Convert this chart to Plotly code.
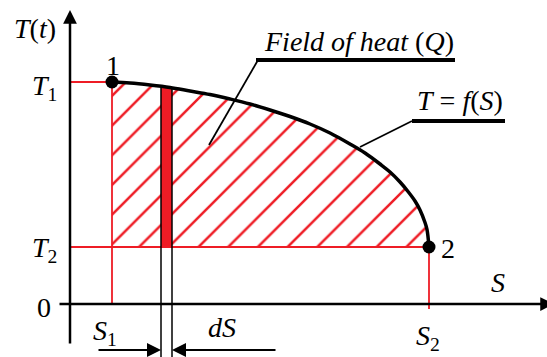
import plotly.graph_objects as go

# T-S diagram, units chosen so 1 unit ~ 1 px, origin at the axes crossing
S_curve = [42, 60, 80, 100, 120, 140, 160, 180, 200, 220, 240, 260, 280, 295,
           310, 320, 330, 338, 345, 350, 355, 357, 359]
T_curve = [222, 221, 219, 216.5, 213, 209.5, 205, 200, 194, 187.5, 180, 171, 160, 151,
           140, 132, 122, 112.5, 103, 94, 81.5, 74.5, 57]

state_S = [42, 359]      # S1, S2
state_T = [222, 57]      # T1, T2
state_names = ['1', '2']

strip_S = [91, 102]      # dS strip
strip_T = [217.5, 216]

RED = '#EE1C25'
FONT = 'Liberation Serif, Times New Roman, serif'

S1, S2 = state_S
T1, T2 = state_T

fig = go.Figure()

# hatched field of heat
fig.add_trace(go.Scatter(
    x=S_curve + [S2, S1], y=T_curve + [T2, T2],
    mode='lines', line=dict(width=0), fill='toself',
    fillcolor='rgba(0,0,0,0)',
    fillpattern=dict(shape='/', fgcolor=RED, fgopacity=1, bgcolor='rgba(0,0,0,0)',
                     size=21, solidity=0.12),
    hoverinfo='skip'))

# red guide lines
guide = dict(mode='lines', line=dict(color=RED, width=1.8), hoverinfo='skip')
fig.add_trace(go.Scatter(x=[0, S1], y=[T1, T1], **guide))
fig.add_trace(go.Scatter(x=[0, S2], y=[T2, T2], **guide))
fig.add_trace(go.Scatter(x=[S1, S1], y=[T1, 0], **guide))
fig.add_trace(go.Scatter(x=[S2, S2], y=[T2, -5], **guide))

# dS strip
fig.add_trace(go.Scatter(
    x=[strip_S[0], strip_S[1], strip_S[1], strip_S[0]],
    y=[strip_T[0], strip_T[1], T2, T2],
    mode='lines', line=dict(width=0), fill='toself', fillcolor=RED, hoverinfo='skip'))
for s, t in zip(strip_S, strip_T):
    fig.add_trace(go.Scatter(x=[s, s], y=[t, -53], mode='lines',
                             line=dict(color='black', width=1.5), hoverinfo='skip'))

# T = f(S)
fig.add_trace(go.Scatter(x=S_curve, y=T_curve, mode='lines',
                         line=dict(color='black', width=3.5, shape='spline'), hoverinfo='skip'))
fig.add_trace(go.Scatter(x=state_S, y=state_T, mode='markers',
                         marker=dict(color='black', size=13), hoverinfo='skip'))

# leader lines and underlines
lead = dict(mode='lines', line=dict(color='black', width=1.8), hoverinfo='skip')
under = dict(mode='lines', line=dict(color='black', width=4), hoverinfo='skip')
fig.add_trace(go.Scatter(x=[188, 139], y=[244, 159], **lead))
fig.add_trace(go.Scatter(x=[186, 385], y=[244, 244], **under))
fig.add_trace(go.Scatter(x=[342, 290], y=[183, 157], **lead))
fig.add_trace(go.Scatter(x=[342, 435], y=[183, 183], **under))


def arrow(x, y, ax, ay, w, sz):
    return dict(x=x, y=y, ax=ax, ay=ay, xref='x', yref='y', axref='x', ayref='y',
                text='', showarrow=True, arrowhead=2, arrowsize=sz, arrowwidth=w,
                arrowcolor='black', standoff=0)


annotations = [
    arrow(0, 294, 0, -41, 2.5, 1.1),
    arrow(484, 0, -12, 0, 2.5, 1.1),
    arrow(strip_S[0], -46, 27, -46, 2, 1.4),
    arrow(strip_S[1], -46, 207, -46, 2, 1.4),
]

labels = [
    ('<i>T</i>(<i>t</i>)', -35, 276),
    ('<i>T</i><sub>1</sub>', -26, 217),
    ('<i>T</i><sub>2</sub>', -26, 55),
    ('0', -26, -3),
    ('<i>S</i><sub>1</sub>', 35, -28),
    ('<i>dS</i>', 152, -23),
    ('<i>S</i><sub>2</sub>', 358, -33),
    ('<i>S</i>', 428, 22),
    ('<i>Field of heat</i> (<i>Q</i>)', 289, 263),
    ('<i>T</i> = <i>f</i>(<i>S</i>)', 390, 204),
    (state_names[0], S1 + 1, 239),
    (state_names[1], S2 + 19, 56),
]
for txt, x, y in labels:
    annotations.append(dict(x=x, y=y, xref='x', yref='y', text=txt, showarrow=False,
                            xanchor='center', yanchor='middle',
                            font=dict(family=FONT, size=28, color='black')))

fig.update_layout(
    width=547, height=357,
    margin=dict(l=0, r=0, t=0, b=0),
    plot_bgcolor='white', paper_bgcolor='white',
    showlegend=False,
    font=dict(family=FONT),
    xaxis=dict(range=[-70, 477], visible=False, fixedrange=True),
    yaxis=dict(range=[-53, 304], visible=False, fixedrange=True),
    annotations=annotations,
)

fig.write_html("out.html", config={'displayModeBar': False},
               post_script="document.body.style.margin='0';")
